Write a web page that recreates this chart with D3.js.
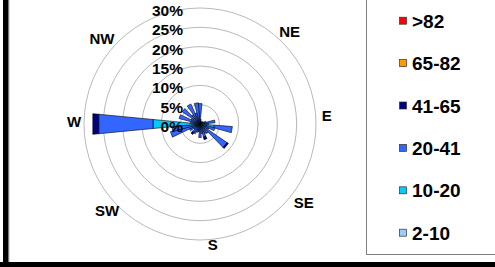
<!DOCTYPE html>
<html>
<head>
<meta charset="utf-8">
<script src="https://cdn.jsdelivr.net/npm/d3@7"></script>
<style>
  html, body { margin: 0; padding: 0; background: #fff; }
  svg { display: block; font-family: "Liberation Sans", Arial, sans-serif; font-weight: bold; }
</style>
</head>
<body>
<div id="chart"></div>
<script>
// 36 direction bins, 10 degrees apart, 0 = north
const directions = d3.range(0, 360, 10);

// percentage of time per speed class, one value per direction
const s2to10  = [0.3,0.2,0.2,0.2,0.2,0.2,0.2,0.2,0.3,0.3,0.3,0.3,0.2,0.3,0.2,0.2,0.2,0.2,
                 0.2,0.2,0.2,0.2,0.2,0.2,0.2,0.3,0.3,1.0,0.3,0.3,0.2,0.3,0.2,0.3,0.2,0.3];
const s10to20 = [0.6,0.4,0.3,0.2,0.3,0.3,0.3,0.4,0.8,0.9,3.4,1.2,0.6,0.9,0.6,0.5,0.6,0.5,
                 0.6,0.4,0.4,0.5,0.5,0.4,0.5,0.8,0.9,11.2,0.7,0.8,0.6,0.7,0.6,0.7,0.6,0.6];
const s20to41 = [4.4,0.6,0.3,0.2,0.3,0.3,0.5,1.0,2.8,1.0,4.7,2.5,1.7,7.3,2.2,2.1,2.7,1.8,
                 2.7,1.4,1.6,2.1,2.0,1.4,2.3,6.8,6.1,14.1,1.5,4.5,1.7,4.6,2.2,4.7,2.2,4.6];
const s41to65 = [0,0,0,0,0,0,0,0,0,0,0,0,0,0.4,0,0,0.7,0,
                 0,0,0,0,0.6,0,0,0,0,1.55,0,0,0,0,0,0,0,0];
const s65to82 = directions.map(() => 0);
const sOver82 = directions.map(() => 0);

const classNames  = ['2-10', '10-20', '20-41', '41-65', '65-82', '>82'];
const classColors = ['#99ccff', '#00ccff', '#3366ff', '#000080', '#ff9900', '#ff0000'];
const classSeries = [s2to10, s10to20, s20to41, s41to65, s65to82, sOver82];

const ringTicks = [0, 5, 10, 15, 20, 25, 30];
const compassLabels = [
  { name: 'NE', angle: 44, dist: 129 },
  { name: 'E',  angle: 86, dist: 127 },
  { name: 'SE', angle: 127, dist: 130 },
  { name: 'S',  angle: 174, dist: 121 },
  { name: 'SW', angle: 227, dist: 127 },
  { name: 'W',  angle: 271, dist: 126 },
  { name: 'NW', angle: 311, dist: 130 }
];

const W = 495, H = 267;
const cx = 200, cy = 124;

const svg = d3.select('#chart').append('svg')
  .attr('width', W).attr('height', H);

svg.append('rect').attr('width', W).attr('height', H).attr('fill', '#fff');

const r = d3.scaleLinear().domain([0, 30]).range([0, 116]);
const ang = d3.scaleLinear().domain([0, 360]).range([0, 2 * Math.PI]);
const halfWidth = 5.5;

const plot = svg.append('g').attr('transform', `translate(${cx},${cy})`);

// grid rings
plot.selectAll('circle.ring')
  .data(ringTicks.filter(d => d > 0))
  .join('circle')
  .attr('class', 'ring')
  .attr('r', d => r(d))
  .attr('fill', 'none')
  .attr('stroke', '#a6a6a6')
  .attr('stroke-width', 0.8);

// stack the speed classes outward for each direction
const segments = [];
directions.forEach((dir, i) => {
  let acc = 0;
  classSeries.forEach((series, k) => {
    const v = series[i];
    if (v > 0) segments.push({ dir, r0: acc, r1: acc + v, color: classColors[k] });
    acc += v;
  });
});

const wedge = d3.lineRadial()
  .angle(d => d[0])
  .radius(d => d[1])
  .curve(d3.curveLinearClosed);

plot.selectAll('path.seg')
  .data(segments)
  .join('path')
  .attr('class', 'seg')
  .attr('d', d => wedge([
    [ang(d.dir - halfWidth), r(d.r0)],
    [ang(d.dir - halfWidth), r(d.r1)],
    [ang(d.dir + halfWidth), r(d.r1)],
    [ang(d.dir + halfWidth), r(d.r0)]
  ]))
  .attr('fill', d => d.color)
  .attr('stroke', '#000')
  .attr('stroke-width', 0.6)
  .attr('stroke-linejoin', 'miter');

// value labels
plot.selectAll('text.tick')
  .data(ringTicks)
  .join('text')
  .attr('class', 'tick')
  .attr('x', -17)
  .attr('y', d => -r(d) + 8)
  .attr('text-anchor', 'end')
  .attr('font-size', 15.5)
  .attr('fill', '#000')
  .text(d => d + '%');

// compass labels
plot.selectAll('text.dir')
  .data(compassLabels)
  .join('text')
  .attr('class', 'dir')
  .attr('x', d => d.dist * Math.sin(ang(d.angle)))
  .attr('y', d => -d.dist * Math.cos(ang(d.angle)) + 5.5)
  .attr('text-anchor', 'middle')
  .attr('font-size', 15)
  .attr('fill', '#000')
  .text(d => d.name);

// legend box
const legend = svg.append('g');
legend.append('rect')
  .attr('x', 366.5).attr('y', -10)
  .attr('width', 200).attr('height', 264.5)
  .attr('fill', '#fff')
  .attr('stroke', '#808080')
  .attr('stroke-width', 1);

const legendOrder = d3.range(classNames.length).reverse();
const ly = d3.scalePoint().domain(legendOrder).range([20.7, 232.7]);

const items = legend.selectAll('g.item')
  .data(legendOrder)
  .join('g')
  .attr('class', 'item')
  .attr('transform', k => `translate(0,${ly(k)})`);

items.append('rect')
  .attr('x', 399.5).attr('y', -3.5)
  .attr('width', 7).attr('height', 7)
  .attr('fill', k => classColors[k])
  .attr('stroke', '#333')
  .attr('stroke-width', 0.7);

items.append('text')
  .attr('x', 412)
  .attr('y', 7)
  .attr('font-size', 19)
  .attr('fill', '#000')
  .text(k => classNames[k]);

// outer frame pieces (cropped chart border)
svg.append('line')
  .attr('x1', 8.8).attr('x2', 8.8).attr('y1', 0).attr('y2', 262)
  .attr('stroke', '#888').attr('stroke-width', 1);
svg.append('rect')
  .attr('x', 3).attr('y', 0).attr('width', 5.3).attr('height', H)
  .attr('fill', '#000');
svg.append('rect')
  .attr('x', 0).attr('y', 262).attr('width', W).attr('height', 5)
  .attr('fill', '#000');
</script>
</body>
</html>
